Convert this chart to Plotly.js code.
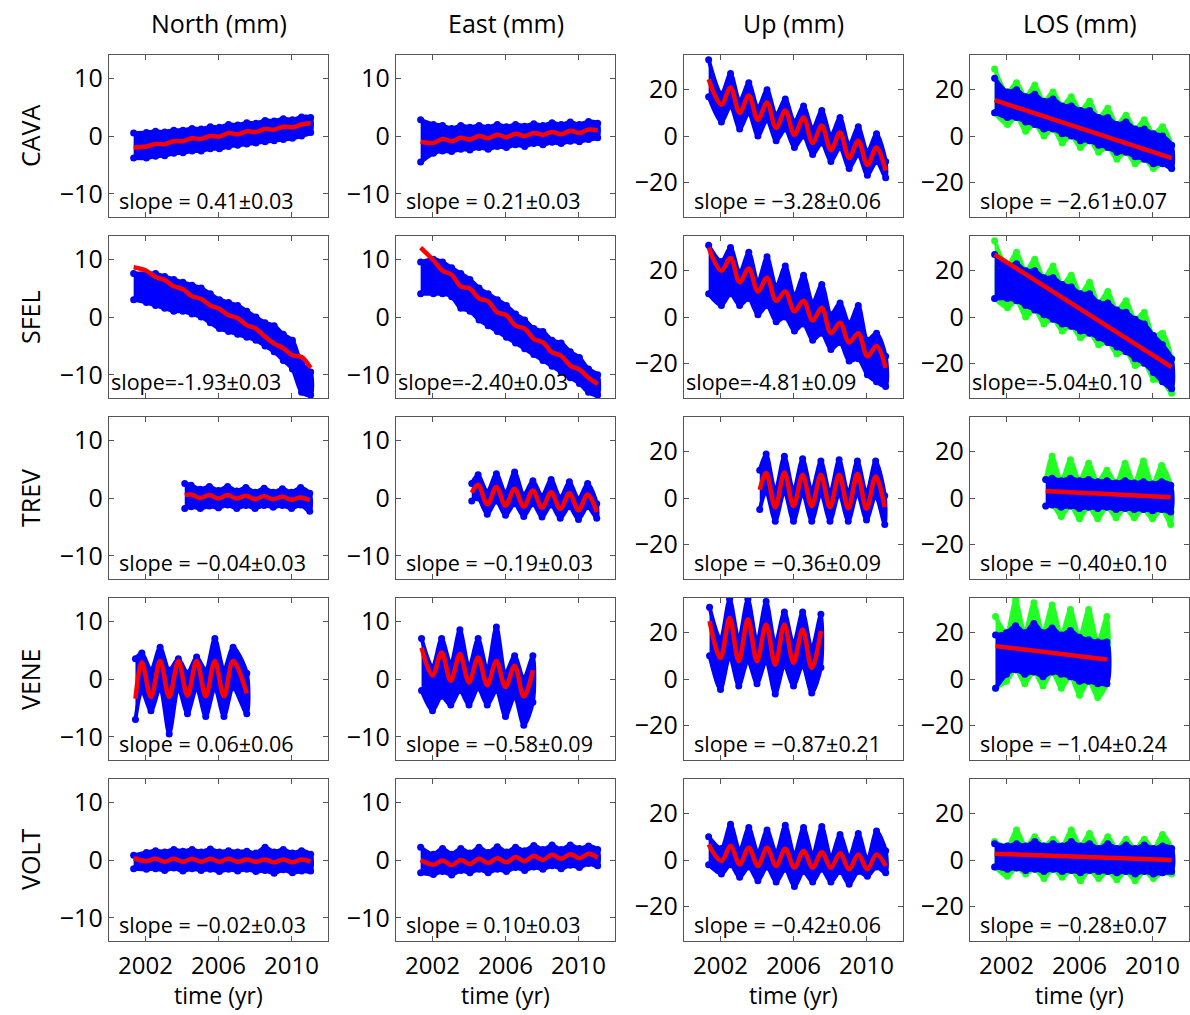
<!DOCTYPE html>
<html><head><meta charset="utf-8">
<script src="https://cdn.plot.ly/plotly-3.0.1.min.js"></script>
<style>body{margin:0;background:#fff}#chart{width:1190px;height:1015px}</style>
</head><body><div id="chart"></div>
<script>
// ---------- labels ----------
const components = ["North (mm)", "East (mm)", "Up (mm)", "LOS (mm)"];
const stations = ["CAVA", "SFEL", "TREV", "VENE", "VOLT"];
const xTickVals = [2002, 2006, 2010];
const xTickText = ["2002", "2006", "2010"];
const yTickHoriz = [-10, 0, 10];
const yTickVert = [-20, 0, 20];
const slopeText = [
  ["slope = 0.41\u00b10.03", "slope = 0.21\u00b10.03", "slope = \u22123.28\u00b10.06", "slope = \u22122.61\u00b10.07"],
  ["slope=-1.93\u00b10.03", "slope=-2.40\u00b10.03", "slope=-4.81\u00b10.09", "slope=-5.04\u00b10.10"],
  ["slope = \u22120.04\u00b10.03", "slope = \u22120.19\u00b10.03", "slope = \u22120.36\u00b10.09", "slope = \u22120.40\u00b10.10"],
  ["slope = 0.06\u00b10.06", "slope = \u22120.58\u00b10.09", "slope = \u22120.87\u00b10.21", "slope = \u22121.04\u00b10.24"],
  ["slope = \u22120.02\u00b10.03", "slope = 0.10\u00b10.03", "slope = \u22120.42\u00b10.06", "slope = \u22120.28\u00b10.07"]
];

// ---------- CAVA ----------
const T_CAVA = [2001.35, 2002.05, 2002.55, 2003.05, 2003.55, 2004.05, 2004.55, 2005.05, 2005.55, 2006.05, 2006.55, 2007.05, 2007.55, 2008.05, 2008.55, 2009.05, 2009.55, 2010.05, 2010.55, 2011.05];
const CAVA_N_red = [-2.0, -1.8, -1.4, -1.4, -0.9, -0.9, -0.4, -0.5, 0.0, -0.1, 0.5, 0.3, 0.8, 0.7, 1.2, 1.1, 1.6, 1.5, 2.0, 2.2];
const CAVA_N_hi = [0.5, 0.6, 0.8, 0.7, 1.0, 1.0, 1.3, 1.2, 1.6, 1.5, 2.0, 1.9, 2.3, 2.2, 2.7, 2.6, 3.0, 2.8, 3.3, 3.2];
const CAVA_N_lo = [-3.8, -3.8, -3.5, -3.4, -3.0, -2.9, -2.6, -2.6, -2.2, -2.2, -1.8, -1.6, -1.4, -1.2, -1.0, -0.8, -0.6, -0.4, 0.0, 0.6];
const CAVA_E_red = [-1.0, -1.2, -0.5, -0.9, -0.3, -0.6, 0.0, -0.4, 0.2, -0.2, 0.4, 0.0, 0.5, 0.2, 0.7, 0.3, 0.9, 0.5, 1.1, 1.0];
const CAVA_E_hi = [2.8, 2.0, 1.8, 1.3, 1.8, 1.5, 1.8, 1.5, 2.0, 1.6, 2.0, 1.7, 2.1, 1.8, 2.3, 2.0, 2.4, 2.0, 2.5, 2.2];
const CAVA_E_lo = [-4.5, -3.0, -2.6, -2.7, -2.3, -2.4, -2.0, -2.3, -1.8, -2.0, -1.5, -1.8, -1.3, -1.5, -1.1, -1.3, -0.9, -1.0, -0.6, -0.3];
const CAVA_U_red = [24.5, 13.5, 21, 10, 17.5, 7, 14.5, 3.5, 11, 0.5, 8, -3, 4.5, -6, 1.5, -9.5, -2, -12.5, -5, -15];
const CAVA_U_hi = [33, 18, 27, 15, 23, 12, 20, 9, 16, 6, 13, 3, 11, 0, 8, -4, 4, -7, 1, -11];
const CAVA_U_lo = [17, 6, 13, 3, 10, 0, 7, -2, 3, -5, 0, -8, -3, -11, -5, -14, -8, -17, -11, -18];
const CAVA_L_red = [15.5, 13.7, 12.4, 11.1, 9.8, 8.5, 7.2, 5.9, 4.6, 3.3, 2.0, 0.7, -0.6, -1.9, -3.2, -4.5, -5.8, -7.1, -8.4, -9.6];
const CAVA_L_hi = [25, 19, 20, 17, 18, 15, 16, 13, 13, 11, 11, 8, 8, 5, 6, 3, 3, 1, 0, -4];
const CAVA_L_lo = [10, 8, 8, 6, 5, 3, 3, 1, 0, -2, -2, -4, -5, -7, -7, -9, -10, -12, -12, -14];
const CAVA_L_ghi = [29, 19, 23, 17, 22, 15, 19, 13, 17, 11, 15, 8, 12, 5, 9, 3, 7, 1, 4, -4];
const CAVA_L_glo = [10, 5, 8, 2, 5, 0, 3, -3, 0, -5, -2, -7, -5, -10, -7, -12, -10, -14, -12, -14];

// ---------- SFEL ----------
const T_SFEL = [2001.35, 2002.05, 2002.55, 2003.05, 2003.55, 2004.05, 2004.55, 2005.05, 2005.55, 2006.05, 2006.55, 2007.05, 2007.55, 2008.05, 2008.55, 2009.05, 2009.55, 2010.05, 2010.55, 2011.05];
const SFEL_N_red = [8.6, 8.0, 6.9, 6.4, 5.3, 4.8, 3.6, 3.1, 2.0, 1.4, 0.3, -0.2, -1.4, -2.0, -3.4, -4.6, -5.4, -6.6, -6.9, -8.8];
const SFEL_N_hi = [7.5, 7.5, 7.5, 7.0, 6.5, 6.0, 5.5, 5.0, 4.0, 3.0, 2.5, 2.0, 1.0, 0.0, -1.0, -1.5, -3.0, -4.0, -8.0, -9.5];
const SFEL_N_lo = [3.0, 2.5, 2.0, 1.5, 1.0, 1.0, 0.5, 0.0, -1.0, -2.0, -2.5, -3.0, -3.5, -4.0, -5.0, -6.0, -7.5, -9.0, -13.0, -13.5];
const SFEL_E_red = [12.0, 9.8, 8.0, 7.3, 5.3, 4.9, 3.2, 2.7, 0.8, 0.3, -1.5, -2.0, -3.8, -4.4, -6.1, -6.7, -8.4, -9.1, -10.5, -11.6];
const SFEL_E_hi = [9.5, 10.0, 9.5, 8.5, 7.5, 6.5, 5.0, 4.0, 3.0, 2.0, 0.5, -0.5, -2.0, -2.5, -4.0, -4.5, -6.0, -7.0, -9.0, -10.0];
const SFEL_E_lo = [4.0, 4.0, 4.0, 3.5, 1.5, 1.0, -0.5, -1.5, -2.5, -3.5, -4.5, -5.5, -6.5, -7.5, -8.5, -9.5, -10.5, -11.5, -13.0, -13.5];
const SFEL_U_red = [30, 20, 25.5, 15, 21, 11, 17, 7, 11, 2.5, 7, -1.5, 4, -7, -2.5, -11, -7, -17, -12.5, -22];
const SFEL_U_hi = [31, 24, 30, 19, 28, 15, 26, 13, 22, 9, 18, 6, 14, 1, 6, -3, 5, -10, -7, -17];
const SFEL_U_lo = [10, 5, 10, 5, 8, 1, 5, -2, 0, -6, -3, -10, -7, -14, -11, -19, -18, -25, -28, -30];
const SFEL_L_red = [27, 23.5, 21, 18.5, 16, 13.4, 10.9, 8.4, 5.9, 3.4, 0.9, -1.6, -4.1, -6.6, -9.1, -11.7, -14.2, -16.7, -19.2, -21.7];
const SFEL_L_hi = [27, 22, 23, 20, 20, 17, 17, 14, 13, 10, 10, 6, 6, 3, 2, -1, -3, -8, -12, -18];
const SFEL_L_lo = [8, 8, 7, 5, 3, 1, -1, -3, -4, -6, -7, -9, -11, -13, -15, -18, -20, -24, -28, -31];
const SFEL_L_ghi = [33, 22, 28, 20, 25, 17, 22, 14, 18, 10, 15, 6, 11, 3, 7, -1, 2, -8, -7, -18];
const SFEL_L_glo = [8, 4, 7, 0, 3, -3, -1, -6, -4, -9, -7, -12, -11, -16, -15, -21, -20, -27, -28, -33];

// ---------- TREV ----------
const T_TREV = [2004.15, 2004.5, 2005.0, 2005.5, 2006.0, 2006.5, 2007.0, 2007.5, 2008.0, 2008.5, 2009.0, 2009.5, 2010.0, 2010.5, 2011.0];
const TREV_N_red = [0.5, 0.6, 0.0, 0.5, -0.1, 0.5, -0.1, 0.4, -0.2, 0.3, -0.2, 0.2, -0.3, 0.1, -0.4];
const TREV_N_hi = [2.5, 2.2, 1.5, 2.0, 1.3, 2.0, 1.2, 1.8, 1.0, 1.7, 1.0, 1.6, 1.0, 1.8, 0.8];
const TREV_N_lo = [-1.8, -1.5, -1.8, -1.4, -1.7, -1.2, -1.8, -1.3, -1.8, -1.3, -1.6, -1.3, -1.8, -1.2, -2.3];
const TREV_E_red = [0.9, 2.3, -1.1, 1.9, -1.3, 1.6, -1.5, 1.3, -1.7, 1.0, -1.9, 0.8, -2.1, 0.6, -2.4];
const TREV_E_hi = [2.5, 4.0, 1.0, 4.2, 0.8, 4.5, 0.5, 3.0, 0.3, 3.2, 0.0, 2.8, -0.2, 2.5, -1.0];
const TREV_E_lo = [-0.5, 0.0, -2.8, -0.5, -3.0, -1.0, -3.2, -1.0, -3.3, -1.2, -3.5, -1.5, -3.7, -1.5, -3.5];
const TREV_U_red = [3.5, 10.8, -4.0, 11.0, -3.5, 10.0, -3.5, 10.0, -4.0, 10.0, -4.5, 10.5, -4.7, 9.3, -4.0];
const TREV_U_hi = [12, 19, 3, 18, 3, 17, 3, 16, 2, 16.5, 2, 16, 2, 16, 1];
const TREV_U_lo = [-5, 3, -10, 3, -10, 2, -10, 2, -10, 2, -10, 2, -9.5, 1, -11.5];
const TREV_L_red = [3.0, 2.8, 2.6, 2.4, 2.2, 2.0, 1.9, 1.7, 1.5, 1.3, 1.1, 0.9, 0.7, 0.5, 0.3];
const TREV_L_hi = [8, 8.5, 7.5, 8.5, 7.5, 8, 7, 7.5, 6.5, 7.5, 6.5, 7, 6, 7, 5.5];
const TREV_L_lo = [-3.5, -3, -4, -3.5, -4.5, -4, -4.5, -4, -5, -4.5, -5, -5, -5.5, -5, -6];
const TREV_L_ghi = [8, 18, 7.5, 16.5, 7.5, 15, 7, 12, 6.5, 15, 6.5, 16, 6, 14, 5.5];
const TREV_L_glo = [-3.5, -3, -8, -3.5, -9, -4, -9, -4, -8.5, -4.5, -8.5, -5, -9, -5, -11.5];

// ---------- VENE ----------
const T_VENE = [2001.4, 2002.0, 2002.5, 2003.0, 2003.5, 2004.0, 2004.5, 2005.0, 2005.5, 2006.0, 2006.5, 2007.0, 2007.5];
const T_VENE_N = [2001.45, 2001.8, 2002.3, 2002.8, 2003.3, 2003.8, 2004.3, 2004.8, 2005.3, 2005.8, 2006.3, 2006.8, 2007.55];
const VENE_N_red = [-3.4, 2.9, -3.1, 3.1, -3.1, 3.1, -2.9, 3.1, -3.0, 3.1, -3.0, 3.1, -2.5];
const VENE_N_hi = [3.5, 4.5, 1.5, 5.5, 1.5, 3.5, 1.0, 3.8, 1.5, 7.0, 1.5, 5.5, 1.0];
const VENE_N_lo = [-7.0, -2.0, -5.5, -1.5, -9.5, -1.5, -6.0, -1.5, -6.5, -1.5, -6.5, -1.5, -6.0];
const VENE_E_red = [5.4, 0.6, 4.6, -0.3, 4.3, -0.6, 3.7, -1.1, 3.1, -1.4, 2.3, -3.0, 1.5];
const VENE_E_hi = [7, 2, 7, 2.5, 8.5, 2, 7, 1.5, 9, 1, 4, 0, 4];
const VENE_E_lo = [-2, -5.5, -3, -4.5, -2, -4.5, -1.5, -4.5, -2, -6.5, -3, -8, -4];
const VENE_U_red = [25, 9, 26.5, 7.7, 25.8, 7.7, 23.6, 6.2, 23.6, 7.0, 21.4, 4.8, 20.7];
const VENE_U_hi = [31, 17, 34.5, 17, 34.5, 16, 33.5, 15, 29, 15, 29, 13, 28];
const VENE_U_lo = [10, -4.5, 10, -3, 8, -2, 8, -6.5, 6, -3, 6, -6, 5];
const VENE_L_red = [14.2, 13.6, 13.1, 12.6, 12.1, 11.5, 11.0, 10.5, 10.0, 9.5, 9.0, 8.5, 8.4];
const VENE_L_hi = [19, 20, 23, 20, 24, 20, 22, 19, 21, 18, 17, 16, 16];
const VENE_L_lo = [-4, 2, 4, 2, 3, 1, 3, 2, 1, -1, -1, -2, -2];
const VENE_L_ghi = [27, 20, 34, 20, 33, 20, 32, 19, 30, 18, 30, 16, 27];
const VENE_L_glo = [-4, -1, 4, -2, 3, -3, 3, -4, 1, -7, -1, -8, -2];

// ---------- VOLT ----------
const T_VOLT = [2001.35, 2002.05, 2002.55, 2003.05, 2003.55, 2004.05, 2004.55, 2005.05, 2005.55, 2006.05, 2006.55, 2007.05, 2007.55, 2008.05, 2008.55, 2009.05, 2009.55, 2010.05, 2010.55, 2011.05];
const VOLT_N_red = [0.3, -0.2, 0.2, -0.3, 0.2, -0.3, 0.2, -0.3, 0.2, -0.3, 0.2, -0.3, 0.1, -0.3, 0.1, -0.4, 0.1, -0.4, 0.1, -0.3];
const VOLT_N_hi = [0.8, 1.3, 1.6, 1.4, 1.8, 1.5, 1.8, 1.4, 1.9, 1.4, 1.6, 1.4, 1.5, 1.2, 2.2, 1.4, 1.8, 1.2, 1.6, 1.0];
const VOLT_N_lo = [-1.5, -1.6, -1.5, -1.8, -1.4, -1.9, -1.5, -1.8, -1.6, -2.0, -1.6, -1.9, -1.6, -2.0, -1.8, -2.3, -1.7, -2.2, -1.9, -1.9];
const VOLT_E_red = [0.0, -0.8, -0.1, -0.9, 0.0, -0.7, 0.2, -0.5, 0.3, -0.4, 0.5, -0.2, 0.7, 0.0, 0.9, 0.2, 1.0, 0.3, 1.1, 0.4];
const VOLT_E_hi = [2.2, 1.0, 2.0, 1.0, 2.0, 1.2, 2.2, 1.3, 2.3, 1.4, 2.2, 1.6, 2.5, 1.8, 2.6, 1.8, 2.6, 2.0, 2.4, 1.8];
const VOLT_E_lo = [-2.2, -2.5, -2.0, -2.6, -1.8, -2.2, -1.6, -2.2, -1.6, -2.0, -1.3, -1.8, -1.2, -1.6, -1.0, -1.5, -0.9, -1.3, -0.6, -1.0];
const VOLT_U_red = [6.7, -0.4, 6.0, -1.9, 5.3, -2.6, 5.3, -2.6, 4.9, -3.3, 3.9, -3.3, 3.4, -3.3, 2.9, -4.0, 2.4, -4.0, 2.4, -2.6];
const VOLT_U_hi = [10, 5, 15.5, 4, 14, 3, 13, 3, 15, 2, 14, 2, 14.5, 1, 11, 1, 11.5, 0, 12.5, 4];
const VOLT_U_lo = [-2, -6, -2, -7.5, -3, -9, -3, -9.5, -4, -11.5, -5, -9.5, -4, -9.5, -5, -10.5, -5, -7, -3, -5.5];
const VOLT_L_red = [2.7, 2.5, 2.4, 2.3, 2.1, 2.0, 1.8, 1.7, 1.6, 1.4, 1.3, 1.1, 1.0, 0.9, 0.7, 0.6, 0.4, 0.3, 0.2, 0.0];
const VOLT_L_hi = [7, 6, 7, 6, 8, 6, 7, 6, 8, 6, 7, 5, 7, 5, 6.5, 5, 6.5, 5, 6, 5];
const VOLT_L_lo = [-3, -4, -3.5, -4.5, -4, -5, -4, -5, -4.5, -5.5, -4.5, -5, -5, -5.5, -5, -6, -5, -6, -5.5, -5];
const VOLT_L_ghi = [8, 6, 13, 6, 10, 6, 9, 6, 13, 6, 11.5, 5, 10, 5, 9, 5, 9, 5, 11, 5];
const VOLT_L_glo = [-3, -7, -3.5, -6, -4, -8, -4, -7.5, -4.5, -9, -4.5, -8, -5, -8.5, -5, -9, -5, -8, -5.5, -6];

// ---------- panel table (built from the arrays above) ----------
const panels = [
  [{t:T_CAVA, red:CAVA_N_red, hi:CAVA_N_hi, lo:CAVA_N_lo}, {t:T_CAVA, red:CAVA_E_red, hi:CAVA_E_hi, lo:CAVA_E_lo},
   {t:T_CAVA, red:CAVA_U_red, hi:CAVA_U_hi, lo:CAVA_U_lo}, {t:T_CAVA, red:CAVA_L_red, hi:CAVA_L_hi, lo:CAVA_L_lo, ghi:CAVA_L_ghi, glo:CAVA_L_glo}],
  [{t:T_SFEL, red:SFEL_N_red, hi:SFEL_N_hi, lo:SFEL_N_lo}, {t:T_SFEL, red:SFEL_E_red, hi:SFEL_E_hi, lo:SFEL_E_lo},
   {t:T_SFEL, red:SFEL_U_red, hi:SFEL_U_hi, lo:SFEL_U_lo}, {t:T_SFEL, red:SFEL_L_red, hi:SFEL_L_hi, lo:SFEL_L_lo, ghi:SFEL_L_ghi, glo:SFEL_L_glo}],
  [{t:T_TREV, red:TREV_N_red, hi:TREV_N_hi, lo:TREV_N_lo}, {t:T_TREV, red:TREV_E_red, hi:TREV_E_hi, lo:TREV_E_lo},
   {t:T_TREV, red:TREV_U_red, hi:TREV_U_hi, lo:TREV_U_lo}, {t:T_TREV, red:TREV_L_red, hi:TREV_L_hi, lo:TREV_L_lo, ghi:TREV_L_ghi, glo:TREV_L_glo}],
  [{t:T_VENE_N, red:VENE_N_red, hi:VENE_N_hi, lo:VENE_N_lo}, {t:T_VENE, red:VENE_E_red, hi:VENE_E_hi, lo:VENE_E_lo},
   {t:T_VENE, red:VENE_U_red, hi:VENE_U_hi, lo:VENE_U_lo}, {t:T_VENE, red:VENE_L_red, hi:VENE_L_hi, lo:VENE_L_lo, ghi:VENE_L_ghi, glo:VENE_L_glo}],
  [{t:T_VOLT, red:VOLT_N_red, hi:VOLT_N_hi, lo:VOLT_N_lo}, {t:T_VOLT, red:VOLT_E_red, hi:VOLT_E_hi, lo:VOLT_E_lo},
   {t:T_VOLT, red:VOLT_U_red, hi:VOLT_U_hi, lo:VOLT_U_lo}, {t:T_VOLT, red:VOLT_L_red, hi:VOLT_L_hi, lo:VOLT_L_lo, ghi:VOLT_L_ghi, glo:VOLT_L_glo}]
];

// ---------- geometry / style ----------
const W = 1190, H = 1015;
const colLeft = [109, 396, 684, 970], colW = 219;
const rowTop = [55, 236, 417, 598, 779], rowH = 162;
const FONT = "Open Sans, Noto Sans, sans-serif";
const BLUE = "#0000ff", GREEN = "#22ff22", RED = "#ff0000", AXC = "#555555";

const traces = [];
const layout = {
  width: W, height: H, margin: {l: 0, r: 0, t: 0, b: 0}, showlegend: false,
  paper_bgcolor: "#ffffff", plot_bgcolor: "#ffffff",
  font: {family: FONT, size: 24, color: "#000"}, annotations: []
};

function band(t, hi, lo, color, ax) {
  const x = t.concat(t.slice().reverse());
  const y = hi.concat(lo.slice().reverse());
  return {x: x, y: y, xaxis: "x" + ax, yaxis: "y" + ax, type: "scatter", mode: "lines+markers",
    fill: "toself", fillcolor: color, line: {color: color, width: 4, shape: "spline", smoothing: 0.8},
    marker: {color: color, size: 7}, hoverinfo: "skip"};
}

for (let r = 0; r < 5; r++) {
  for (let c = 0; c < 4; c++) {
    const k = r * 4 + c + 1;
    const p = panels[r][c];
    if (p.ghi) traces.push(band(p.t, p.ghi, p.glo, GREEN, k));
    traces.push(band(p.t, p.hi, p.lo, BLUE, k));
    traces.push({x: p.t, y: p.red, xaxis: "x" + k, yaxis: "y" + k, type: "scatter", mode: "lines",
      line: {color: RED, width: 4.5, shape: c === 3 ? "linear" : "spline", smoothing: 1}, hoverinfo: "skip"});
    const vert = c >= 2;
    layout["xaxis" + k] = {
      domain: [colLeft[c] / W, (colLeft[c] + colW) / W], anchor: "y" + k,
      range: [2000, 2012], tickvals: xTickVals, ticktext: xTickText, showticklabels: r === 4,
      ticks: "inside", ticklen: 5, tickcolor: AXC, showline: true, mirror: "allticks",
      linecolor: AXC, linewidth: 1.3, showgrid: false, zeroline: false, ticklabelstandoff: 3,
      tickfont: {family: FONT, size: 24, color: "#000"}, fixedrange: true
    };
    layout["yaxis" + k] = {
      domain: [1 - (rowTop[r] + rowH) / H, 1 - rowTop[r] / H], anchor: "x" + k,
      range: vert ? [-35, 35] : [-14, 14], tickvals: vert ? yTickVert : yTickHoriz,
      ticks: "inside", ticklen: 5, tickcolor: AXC, showline: true, mirror: "allticks",
      linecolor: AXC, linewidth: 1.3, showgrid: false, zeroline: false,
      tickfont: {family: FONT, size: 25, color: "#000"}, fixedrange: true
    };
    layout.annotations.push({
      text: slopeText[r][c], xref: "x" + k + " domain", yref: "y" + k + " domain",
      x: r === 1 ? 0.0 : 0.035, y: 0.0, xanchor: "left", yanchor: "bottom", showarrow: false,
      font: {family: FONT, size: 21.5, color: "#000"}
    });
  }
}

for (let c = 0; c < 4; c++) {
  layout.annotations.push({text: components[c], xref: "paper", yref: "paper",
    x: (colLeft[c] + colW / 2) / W, y: 1 - 23 / H, xanchor: "center", yanchor: "middle",
    showarrow: false, font: {family: FONT, size: 25, color: "#000"}});
  layout.annotations.push({text: "time (yr)", xref: "paper", yref: "paper",
    x: (colLeft[c] + colW / 2) / W, y: 3 / H, xanchor: "center", yanchor: "bottom",
    borderpad: 0, showarrow: false, font: {family: FONT, size: 23, color: "#000"}});
}
for (let r = 0; r < 5; r++) {
  layout.annotations.push({text: stations[r], xref: "paper", yref: "paper",
    x: 30 / W, y: 1 - (rowTop[r] + rowH / 2) / H, xanchor: "center", yanchor: "middle",
    textangle: -90, showarrow: false, font: {family: FONT, size: 25, color: "#000"}});
}

Plotly.newPlot("chart", traces, layout, {staticPlot: true});
</script>
</body></html>
